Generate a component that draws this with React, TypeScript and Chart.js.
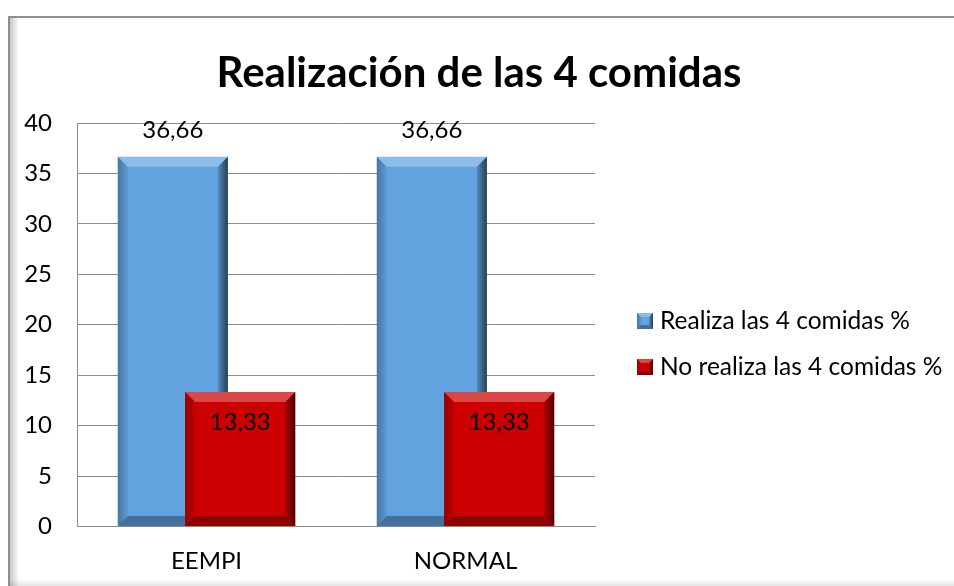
import React, { useEffect, useRef } from "react";
import { Chart, registerables } from "chart.js";

Chart.register(...registerables);

// ---- Data ----
const TITLE = "Realización de las 4 comidas";
const categories = ["EEMPI", "NORMAL"];
const seriesNames = ["Realiza las 4 comidas %", "No realiza las 4 comidas %"];
const realiza = [36.66, 36.66];
const noRealiza = [13.33, 13.33];
const yMin = 0;
const yMax = 40;
const yStep = 5;

// ---- Styles ----
const FONT = "Lato, 'Open Sans', sans-serif";
const seriesColors = ["#62A2DE", "#CC0000"];
const seriesShift = [-0.13, 0.13]; // overlap offset within a category (in category units)
const GRID = "#8c8c8c";

const fmt = (v: number) => v.toFixed(2).replace(".", ",");

function bevel(ctx: CanvasRenderingContext2D, l: number, t: number, r: number, b: number, s: number) {
  ctx.save();
  ctx.beginPath();
  ctx.moveTo(l, t); ctx.lineTo(r, t); ctx.lineTo(r - s, t + s); ctx.lineTo(l + s, t + s); ctx.closePath();
  ctx.fillStyle = "rgba(255,255,255,0.28)";
  ctx.fill();
  ctx.beginPath();
  ctx.moveTo(l, t); ctx.lineTo(l + s, t + s); ctx.lineTo(l + s, b - s); ctx.lineTo(l, b); ctx.closePath();
  let g = ctx.createLinearGradient(l, 0, l + s, 0);
  g.addColorStop(0, "rgba(0,0,0,0.28)");
  g.addColorStop(1, "rgba(0,0,0,0.05)");
  ctx.fillStyle = g;
  ctx.fill();
  ctx.beginPath();
  ctx.moveTo(r, t); ctx.lineTo(r, b); ctx.lineTo(r - s, b - s); ctx.lineTo(r - s, t + s); ctx.closePath();
  g = ctx.createLinearGradient(r - s, 0, r, 0);
  g.addColorStop(0, "rgba(0,0,0,0.15)");
  g.addColorStop(1, "rgba(0,0,0,0.62)");
  ctx.fillStyle = g;
  ctx.fill();
  ctx.beginPath();
  ctx.moveTo(l, b); ctx.lineTo(r, b); ctx.lineTo(r - s, b - s); ctx.lineTo(l + s, b - s); ctx.closePath();
  ctx.fillStyle = "rgba(0,0,0,0.3)";
  ctx.fill();
  ctx.restore();
}

const framePlugin = {
  id: "frame",
  beforeDraw(chart: any) {
    const { ctx, width, height } = chart;
    ctx.save();
    ctx.fillStyle = "#ffffff";
    ctx.fillRect(0, 0, width, height);
    let g = ctx.createLinearGradient(10, 0, 19, 0);
    g.addColorStop(0, "rgba(0,0,0,0.22)");
    g.addColorStop(1, "rgba(0,0,0,0)");
    ctx.fillStyle = g;
    ctx.fillRect(10, 18, 9, height - 18);
    g = ctx.createLinearGradient(0, height - 7, 0, height);
    g.addColorStop(0, "rgba(0,0,0,0)");
    g.addColorStop(1, "rgba(0,0,0,0.1)");
    ctx.fillStyle = g;
    ctx.fillRect(10, height - 7, width - 10, 7);
    ctx.fillStyle = "#8e8e8e";
    ctx.fillRect(8, 16, width - 8, 2);
    ctx.fillRect(8, 16, 2, height - 16);
    ctx.restore();
  },
};

const bevelPlugin = {
  id: "bevel",
  afterDatasetDraw(chart: any, args: any) {
    const ctx = chart.ctx;
    args.meta.data.forEach((el: any) => {
      const { x, y, width, base } = el.getProps(["x", "y", "width", "base"], true);
      bevel(ctx, x - width / 2, y, x + width / 2, base, 10);
    });
  },
};

const labelsPlugin = {
  id: "valueLabels",
  afterDatasetsDraw(chart: any) {
    const ctx = chart.ctx;
    ctx.save();
    ctx.font = `24px ${FONT}`;
    ctx.fillStyle = "#000";
    ctx.textAlign = "center";
    ctx.textBaseline = "middle";
    chart.data.datasets.forEach((ds: any, di: number) => {
      const meta = chart.getDatasetMeta(di);
      meta.data.forEach((el: any, i: number) => {
        const { x, y } = el.getProps(["x", "y"], true);
        const v = ds.data[i].y;
        const ty = di === 0 ? y - 26 : y + 30;
        ctx.fillText(fmt(v), x, ty);
      });
    });
    ctx.restore();
  },
};

const titleLegendPlugin = {
  id: "titleLegend",
  afterDraw(chart: any) {
    const ctx = chart.ctx;
    const area = chart.chartArea;
    ctx.save();
    ctx.font = `bold 42px ${FONT}`;
    ctx.fillStyle = "#000";
    ctx.textAlign = "center";
    ctx.textBaseline = "middle";
    ctx.fillText(TITLE, 479, 73);

    ctx.font = `24.5px ${FONT}`;
    ctx.textAlign = "left";
    chart.data.datasets.forEach((ds: any, i: number) => {
      const cy = area.top + 198 + i * 46;
      const mx = area.right + 42;
      ctx.fillStyle = ds.backgroundColor;
      ctx.fillRect(mx, cy - 8, 16, 16);
      bevel(ctx, mx, cy - 8, mx + 16, cy + 8, 4);
      ctx.fillStyle = "#000";
      ctx.fillText(ds.label, mx + 23, cy);
    });
    ctx.restore();
  },
};

export default function App() {
  const ref = useRef<HTMLCanvasElement | null>(null);

  useEffect(() => {
    if (!ref.current) return;
    const seriesValues = [realiza, noRealiza];
    const datasets = seriesValues.map((vals, si) => ({
      label: seriesNames[si],
      data: vals.map((v, ci) => ({ x: ci + seriesShift[si], y: v })),
      backgroundColor: seriesColors[si],
      borderWidth: 0,
      grouped: false,
      categoryPercentage: 1,
      barPercentage: 1.635,
      order: si === 0 ? 1 : 0,
    }));

    const chart = new Chart(ref.current, {
      type: "bar",
      data: { datasets },
      plugins: [framePlugin, bevelPlugin, labelsPlugin, titleLegendPlugin],
      options: {
        responsive: false,
        animation: false,
        devicePixelRatio: 1,
        layout: { padding: { top: 123, right: 359, bottom: 0, left: 0 } },
        plugins: {
          legend: { display: false },
          title: { display: false },
          tooltip: { enabled: false },
        },
        scales: {
          x: {
            type: "linear",
            min: -0.5,
            max: 1.5,
            offset: false,
            afterBuildTicks: (s: any) => {
              s.ticks = categories.map((_, i) => ({ value: i }));
            },
            afterFit: (s: any) => { s.height = 59.5; },
            ticks: {
              autoSkip: false,
              maxRotation: 0,
              padding: 12,
              color: "#000",
              font: { family: FONT, size: 24 },
              callback: (v: any) => categories[Math.round(v)] ?? "",
            },
            grid: { display: false },
            border: { display: true, color: GRID, width: 1 },
          },
          y: {
            min: yMin,
            max: yMax,
            afterFit: (s: any) => { s.width = 77; },
            ticks: {
              stepSize: yStep,
              padding: 25,
              color: "#000",
              font: { family: FONT, size: 24 },
            },
            grid: { color: GRID, lineWidth: 1, drawTicks: false },
            border: { display: true, color: GRID, width: 1 },
          },
        },
      } as any,
    });
    return () => chart.destroy();
  }, []);

  return (
    <canvas
      ref={ref}
      width={954}
      height={586}
      style={{ position: "absolute", left: 0, top: 0, width: 954, height: 586, display: "block" }}
    />
  );
}
